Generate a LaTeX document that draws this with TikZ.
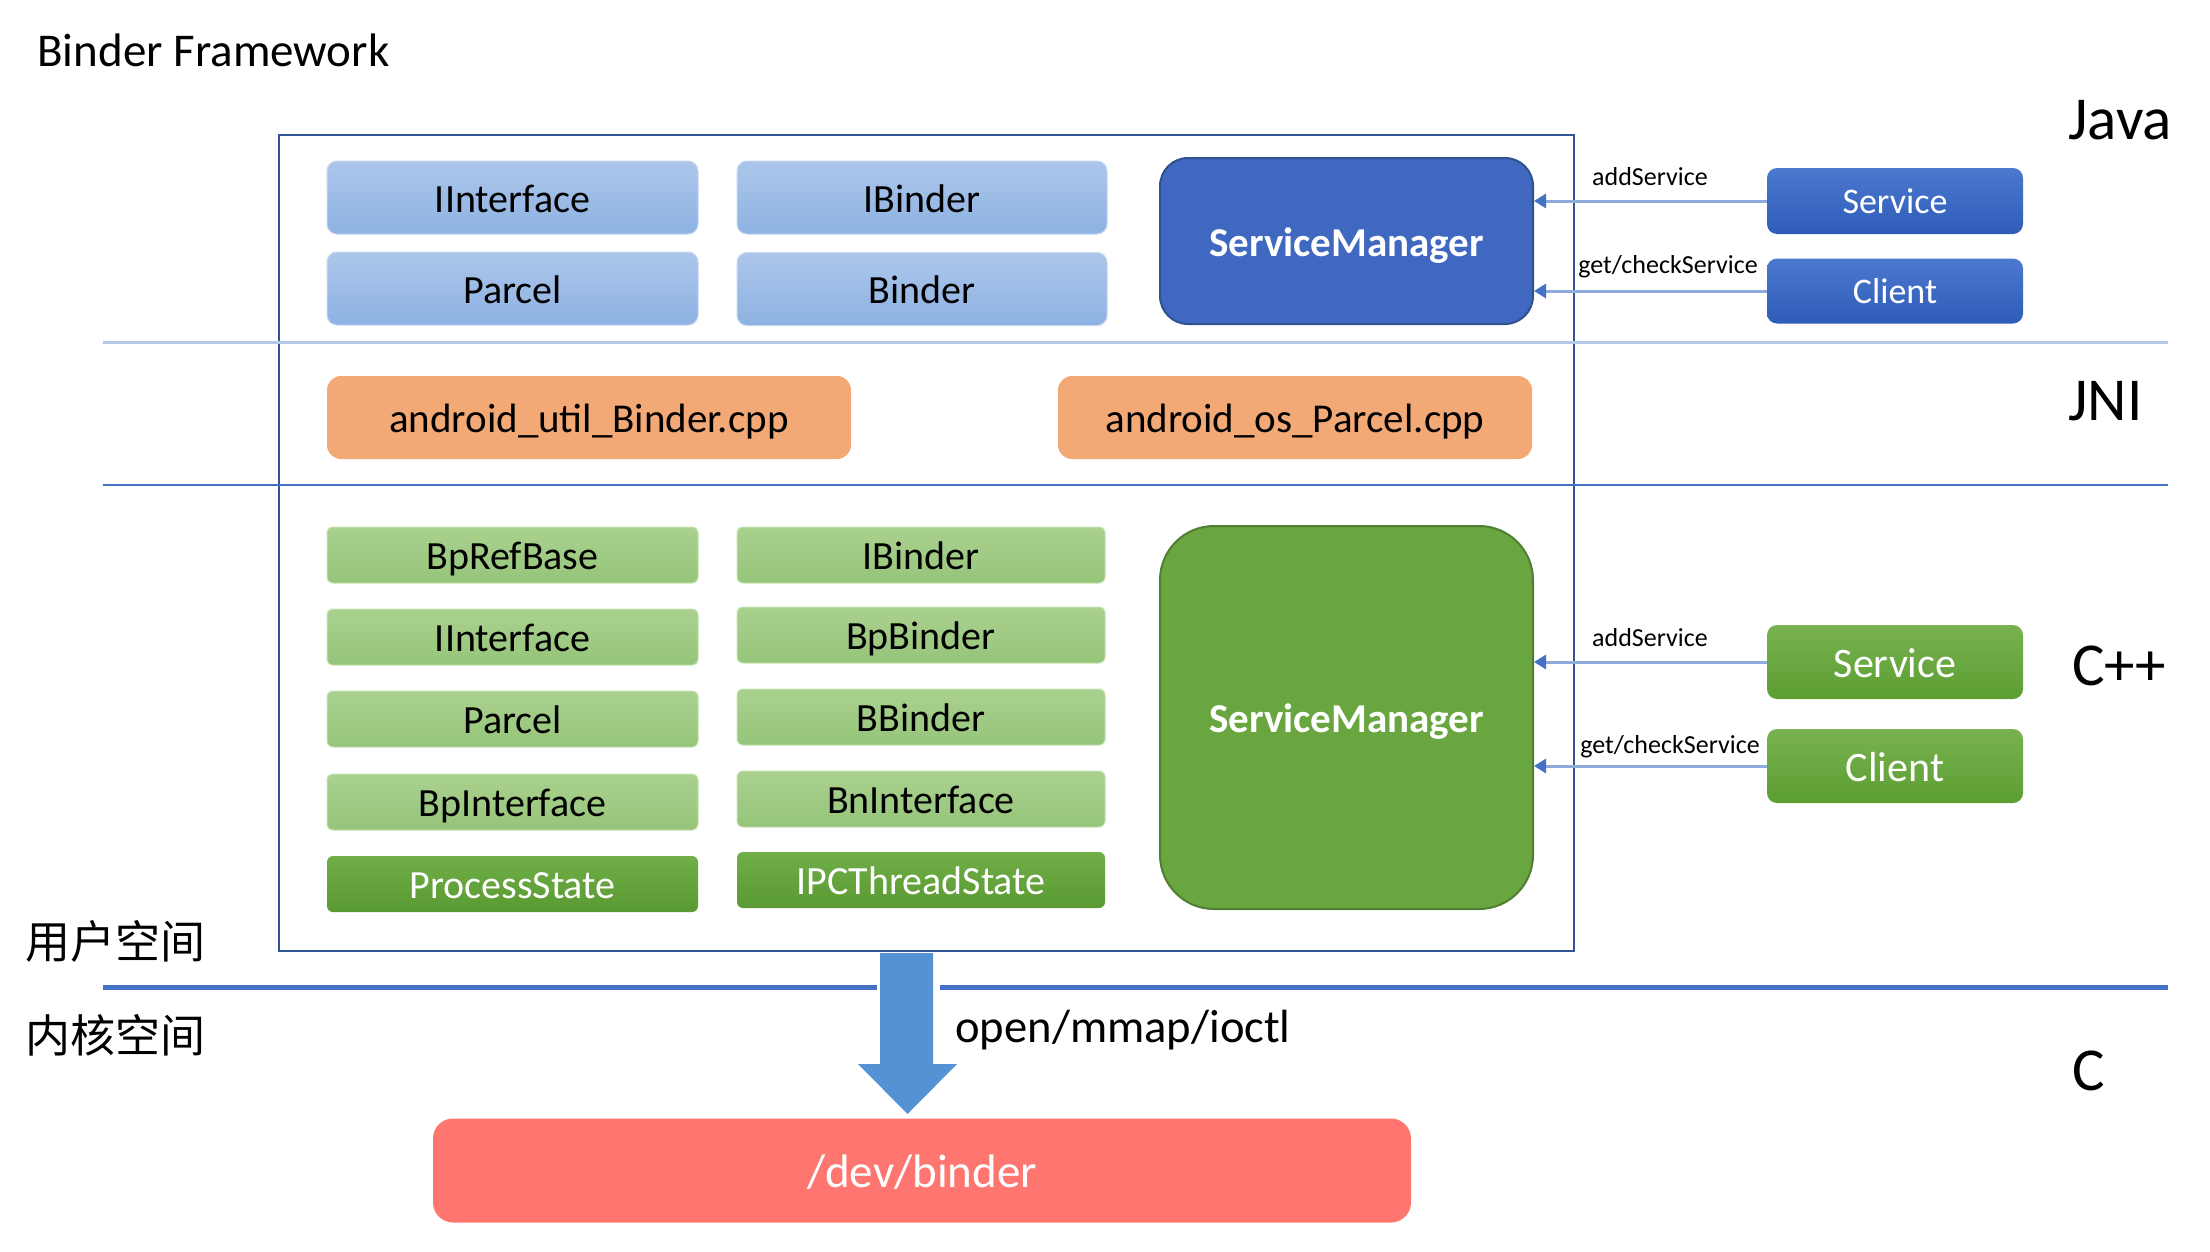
\documentclass[tikz,border=0pt]{standalone}
\usepackage{fontspec}
\setmainfont{Carlito}
\newfontfamily\cjkfont{Noto Sans CJK SC}
\usetikzlibrary{arrows.meta,shadings}

\definecolor{jtop}{RGB}{172,198,234}
\definecolor{jbot}{RGB}{141,178,226}
\definecolor{jedge}{RGB}{196,214,240}
\definecolor{smjfill}{RGB}{64,104,192}
\definecolor{smjedge}{RGB}{47,82,143}
\definecolor{bsvctop}{RGB}{76,120,206}
\definecolor{bsvcbot}{RGB}{46,92,184}
\definecolor{jnifill}{RGB}{243,169,118}
\definecolor{ctop}{RGB}{170,209,143}
\definecolor{cbot}{RGB}{150,196,122}
\definecolor{cedge}{RGB}{196,226,176}
\definecolor{dtop}{RGB}{112,174,72}
\definecolor{dbot}{RGB}{90,154,50}
\definecolor{smgfill}{RGB}{106,166,64}
\definecolor{smgedge}{RGB}{80,126,50}
\definecolor{gsvctop}{RGB}{120,178,80}
\definecolor{gsvcbot}{RGB}{92,158,50}
\definecolor{devfill}{RGB}{255,118,112}
\definecolor{bigblue}{RGB}{85,146,211}
\definecolor{paleline}{RGB}{180,199,231}
\definecolor{midblue}{RGB}{68,114,196}
\definecolor{frameblue}{RGB}{47,85,151}
\definecolor{callline}{RGB}{143,170,220}

\tikzset{
  box/.style={rounded corners=5pt, inner sep=0pt, text height=14.8pt, text depth=0pt,
    font=\fontsize{20}{24}\selectfont},
  jcls/.style={box, top color=jtop, bottom color=jbot, draw=jedge, line width=0.5pt,
    minimum height=36.5pt},
  smj/.style={box, rounded corners=14pt, fill=smjfill, draw=smjedge, line width=1pt,
    text=white, font=\bfseries\fontsize{20.5}{24}\selectfont, text height=15.4pt,
    minimum width=186.5pt, minimum height=83pt},
  jcall/.style={box, top color=bsvctop, bottom color=bsvcbot, text=white,
    font=\fontsize{18}{22}\selectfont, text height=12.6pt,
    minimum width=128pt, minimum height=33pt},
  jni/.style={box, rounded corners=7pt, fill=jnifill, font=\fontsize{20.5}{24}\selectfont,
    text height=15.2pt, minimum height=41.5pt},
  ccls/.style={box, rounded corners=3pt, top color=ctop, bottom color=cbot, draw=cedge,
    line width=0.5pt, minimum height=28pt},
  cstate/.style={box, rounded corners=3pt, top color=dtop, bottom color=dbot,
    text=white, minimum height=28pt},
  smg/.style={box, rounded corners=27pt, fill=smgfill, draw=smgedge, line width=1pt,
    text=white, font=\bfseries\fontsize{20.5}{24}\selectfont, text height=15.4pt,
    minimum width=186.5pt, minimum height=191.5pt},
  ccall/.style={box, top color=gsvctop, bottom color=gsvcbot, text=white,
    font=\fontsize{21}{25}\selectfont, text height=15pt,
    minimum width=128pt, minimum height=37pt},
  call/.style={draw=callline, line width=1.5pt,
    -{Triangle[length=6pt,width=7pt,color=midblue]}},
  calllbl/.style={anchor=base, inner sep=0pt, font=\fontsize{13}{16}\selectfont},
  layer/.style={anchor=base west, inner sep=0pt, font=\fontsize{30.5}{36}\selectfont},
  zone/.style={anchor=west, inner sep=0pt, font=\cjkfont\fontsize{22.5}{27}\selectfont}
}

\begin{document}
\begin{tikzpicture}[x=0.5pt,y=0.5pt,yscale=-1,xscale=1]
\useasboundingbox (0,0) rectangle (2210,1252);

% Text Node
\node[anchor=base west, inner sep=0pt, font=\fontsize{23.5}{28}\selectfont] (ttl) at (37,67) {Binder Framework};

%Shape: Rectangle
\node[draw=frameblue, line width=1pt, minimum width=647.5pt, minimum height=408pt, inner sep=0pt] (frame) at (926.5,543) {};

%Straight Lines
\draw[paleline, line width=1.5pt] (103,342.5) -- (2168,342.5);
\draw[midblue, line width=1pt] (103,485) -- (2168,485);
\draw[midblue, line width=2.5pt] (103,987) -- (877,987);
\draw[midblue, line width=2.5pt] (940,987) -- (2168,987);

% Java layer
\node[jcls, minimum width=185.5pt] (jiface) at (512.5,197.5) {IInterface};
\node[jcls, minimum width=185pt] (jibinder) at (922,197.5) {IBinder};
\node[jcls, minimum width=185.5pt] (jparcel) at (512.5,288.5) {Parcel};
\node[jcls, minimum width=185pt] (jbinder) at (922,289) {Binder};
\node[smj] (jsm) at (1346.5,241) {ServiceManager};
\node[jcall] (jsvc) at (1895,201) {Service};
\node[jcall, minimum height=32.5pt] (jclient) at (1895,291) {Client};

\draw[call] (jsvc.west) -- (jsvc.west -| jsm.east);
\draw[call] (jclient.west) -- (jclient.west -| jsm.east);
\node[calllbl] (jaddlbl) at (1650,185) {addService};
\node[calllbl] (jgetlbl) at (1668,273) {get/checkService};

% JNI layer
\node[jni, minimum width=262pt] (jniutil) at (589,417.5) {android\_util\_Binder.cpp};
\node[jni, minimum width=237pt] (jniparcel) at (1295,417.5) {android\_os\_Parcel.cpp};

% C++ layer
\node[ccls, minimum width=185.5pt] (cref) at (512.5,555) {BpRefBase};
\node[ccls, minimum width=184pt] (cibinder) at (921,555) {IBinder};
\node[ccls, minimum width=185.5pt] (ciface) at (512.5,637) {IInterface};
\node[ccls, minimum width=184pt] (cbpbinder) at (921,635) {BpBinder};
\node[ccls, minimum width=185.5pt] (cparcel) at (512.5,719) {Parcel};
\node[ccls, minimum width=184pt] (cbbinder) at (921,717) {BBinder};
\node[ccls, minimum width=185.5pt] (cbpiface) at (512.5,802) {BpInterface};
\node[ccls, minimum width=184pt] (cbniface) at (921,799) {BnInterface};
\node[cstate, minimum width=185.5pt] (cproc) at (512.5,884) {ProcessState};
\node[cstate, minimum width=184pt] (cipc) at (921,880) {IPCThreadState};
\node[smg] (csm) at (1346.5,717.5) {ServiceManager};
\node[ccall] (csvc) at (1895,662) {Service};
\node[ccall] (cclient) at (1895,766) {Client};

\draw[call] (csvc.west) -- (csvc.west -| csm.east);
\draw[call] (cclient.west) -- (cclient.west -| csm.east);
\node[calllbl] (caddlbl) at (1650,646) {addService};
\node[calllbl] (cgetlbl) at (1670,753) {get/checkService};

% Kernel
\node[box, rounded corners=10pt, fill=devfill, text=white, font=\fontsize{23.5}{28}\selectfont,
  text height=17.4pt, minimum width=489pt, minimum height=52pt] (devbinder) at (922,1170.5) {/dev/binder};

%Shape: Down Arrow
\coordinate (atop) at (906.5,953);
\coordinate (atip) at (907.5,1114);
\fill[bigblue] ([xshift=-13.25pt]atop) -- ([xshift=13.25pt]atop) -- ([xshift=13.25pt]atop |- 0,1064)
  -- ([xshift=24.75pt]atip |- 0,1064) -- (atip) -- ([xshift=-24.75pt]atip |- 0,1064)
  -- ([xshift=-13.25pt]atop |- 0,1064) -- cycle;

% Text Node
\node[anchor=base west, inner sep=0pt, font=\fontsize{23.3}{28}\selectfont] (ioctl) at (955,1042) {open/mmap/ioctl};

% Layer labels
\node[layer] (ljava) at (2068,140) {Java};
\node[layer] (ljni) at (2068,420) {JNI};
\node[layer] (lcpp) at (2072,685) {C++};
\node[layer] (lc) at (2072,1090) {C};

\node[zone] (luser) at (25,941) {用户空间};
\node[zone] (lkernel) at (25,1035) {内核空间};

\end{tikzpicture}
\end{document}
